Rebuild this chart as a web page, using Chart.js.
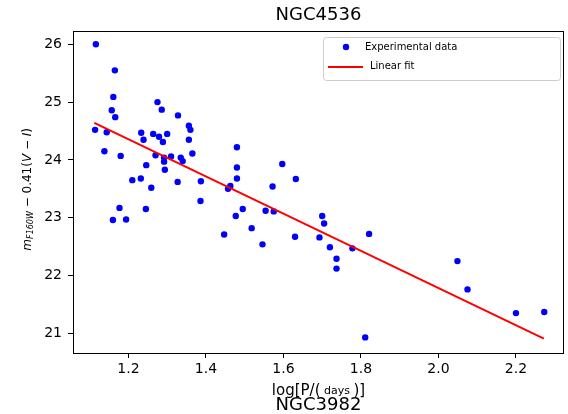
<!DOCTYPE html>
<html>
<head>
<meta charset="utf-8">
<script src="https://cdn.jsdelivr.net/npm/chart.js@4.4.1/dist/chart.umd.min.js"></script>
<style>
  html, body { margin: 0; padding: 0; background: #fff; }
  canvas { display: block; }
</style>
</head>
<body>
<canvas id="myChart" width="568" height="414"></canvas>
<script>
// data block
const logP = [
    1.116, 1.165, 1.161, 1.157, 1.166, 1.114, 1.144, 1.233, 1.239, 1.264,
    1.275, 1.286, 1.328, 1.356, 1.360, 1.279, 1.300, 1.289, 1.356, 1.365,
    1.270, 1.292, 1.292, 1.310, 1.335, 1.340, 1.138, 1.180, 1.246, 1.294,
    1.210, 1.232, 1.259, 1.327, 1.387, 1.386, 1.177, 1.245, 1.160, 1.194,
    1.480, 1.480, 1.597, 1.480, 1.632, 1.463, 1.457, 1.572, 1.495, 1.477,
    1.554, 1.575, 1.700, 1.705, 1.518, 1.447, 1.630, 1.693, 1.546, 1.720,
    1.778, 1.737, 1.737, 1.821, 2.049, 2.075, 2.200, 2.273, 1.811
];
const mag = [
    26.00, 25.55, 25.09, 24.86, 24.74, 24.52, 24.48, 24.47, 24.35, 24.45,
    25.00, 24.87, 24.77, 24.59, 24.52, 24.40, 24.45, 24.31, 24.35, 24.11,
    24.08, 24.04, 23.97, 24.06, 24.04, 23.98, 24.15, 24.07, 23.91, 23.83,
    23.65, 23.68, 23.52, 23.62, 23.63, 23.29, 23.17, 23.15, 22.96, 22.97,
    24.22, 23.87, 23.93, 23.68, 23.67, 23.55, 23.50, 23.54, 23.15, 23.03,
    23.12, 23.11, 23.03, 22.90, 22.82, 22.71, 22.67, 22.66, 22.54, 22.49,
    22.47, 22.29, 22.12, 22.72, 22.25, 21.76, 21.35, 21.37, 20.93
];
// linear fit end points
const fitX = [1.112, 2.272];
const fitY = [24.64, 20.91];
const xTicks = [1.2, 1.4, 1.6, 1.8, 2.0, 2.2];
const yTicks = [21, 22, 23, 24, 25, 26];

const FONT = "'DejaVu Sans', sans-serif";
Chart.defaults.color = '#000';
Chart.defaults.font.family = FONT;

const data = {
    datasets: [{
        type: 'scatter',
        label: 'Experimental data',
        data: logP.map((x, i) => ({ x: x, y: mag[i] })),
        backgroundColor: '#0000ff',
        borderWidth: 0,
        pointRadius: 3.2,
        order: 1
    }, {
        type: 'line',
        label: 'Linear fit',
        data: fitX.map((x, i) => ({ x: x, y: fitY[i] })),
        borderColor: '#ff0000',
        borderWidth: 2,
        pointRadius: 0,
        fill: false,
        order: 0
    }]
};

// frame, axis labels, bottom title and legend box
const extras = {
    id: 'extras',
    afterDraw(chart) {
        const ctx = chart.ctx;
        const a = chart.chartArea;
        ctx.save();
        ctx.strokeStyle = '#000';
        ctx.lineWidth = 1;
        const l = Math.floor(a.left) + 0.5, t = Math.floor(a.top) + 0.5;
        ctx.strokeRect(l, t, Math.floor(a.right) - 0.5 - l, Math.floor(a.bottom) + 0.5 - t);

        // y label
        const parts = [
            { t: 'm', f: 'italic 12px ' + FONT, dy: 0 },
            { t: 'F160W', f: 'italic 8px ' + FONT, dy: 3 },
            { t: ' \u2212 0.41(', f: '12px ' + FONT, dy: 0 },
            { t: 'V', f: 'italic 12px ' + FONT, dy: 0 },
            { t: ' \u2212 ', f: '12px ' + FONT, dy: 0 },
            { t: 'I', f: 'italic 12px ' + FONT, dy: 0 },
            { t: ')', f: '12px ' + FONT, dy: 0 }
        ];
        ctx.translate(28, (a.top + a.bottom) / 2 - 3);
        ctx.rotate(-Math.PI / 2);
        let total = 0;
        parts.forEach(p => { ctx.font = p.f; p.w = ctx.measureText(p.t).width; total += p.w; });
        let x = -total / 2;
        ctx.fillStyle = '#000';
        ctx.textBaseline = 'middle';
        ctx.textAlign = 'left';
        parts.forEach(p => { ctx.font = p.f; ctx.fillText(p.t, x, p.dy); x += p.w; });
        ctx.setTransform(1, 0, 0, 1, 0, 0);

        // x label
        const xparts = [
            { t: 'log[P/(', f: '15px ' + FONT },
            { t: ' days ', f: '11px ' + FONT },
            { t: ')]', f: '15px ' + FONT }
        ];
        total = 0;
        xparts.forEach(p => { ctx.font = p.f; p.w = ctx.measureText(p.t).width; total += p.w; });
        x = (a.left + a.right) / 2 - total / 2;
        xparts.forEach(p => { ctx.font = p.f; ctx.fillText(p.t, x, 391); x += p.w; });

        ctx.font = '18px ' + FONT;
        ctx.textAlign = 'center';
        ctx.fillText('NGC3982', (a.left + a.right) / 2, 405);

        // legend
        ctx.beginPath();
        ctx.roundRect(323.5, 37.5, 237, 43, 3);
        ctx.fillStyle = 'rgba(255,255,255,0.8)';
        ctx.fill();
        ctx.strokeStyle = '#cccccc';
        ctx.stroke();
        const ds = chart.data.datasets;
        ctx.font = '10px ' + FONT;
        ctx.textAlign = 'left';
        ctx.textBaseline = 'middle';
        ctx.fillStyle = ds[0].backgroundColor;
        ctx.beginPath();
        ctx.arc(346, 47, 3.2, 0, Math.PI * 2);
        ctx.fill();
        ctx.fillStyle = '#000';
        ctx.fillText(ds[0].label, 365, 47);
        ctx.strokeStyle = ds[1].borderColor;
        ctx.lineWidth = 2;
        ctx.beginPath();
        ctx.moveTo(328, 67);
        ctx.lineTo(363, 67);
        ctx.stroke();
        ctx.fillText(ds[1].label, 370, 66);
        ctx.restore();
    }
};

// config block
const config = {
    type: 'scatter',
    data: data,
    options: {
        responsive: false,
        animation: false,
        layout: { padding: { left: 0, right: 0, top: 0, bottom: 0 } },
        scales: {
            x: {
                type: 'linear',
                min: 1.057,
                max: 2.324,
                afterBuildTicks: (scale) => { scale.ticks = xTicks.map(v => ({ value: v })); },
                afterFit: (scale) => { scale.height = 61; },
                grid: { drawOnChartArea: false, tickLength: 5, tickColor: '#000' },
                border: { display: false },
                ticks: {
                    font: { size: 14 },
                    padding: 3,
                    maxRotation: 0,
                    callback: (v) => v.toFixed(1)
                }
            },
            y: {
                type: 'linear',
                min: 20.66,
                max: 26.22,
                afterBuildTicks: (scale) => { scale.ticks = yTicks.map(v => ({ value: v })); },
                afterFit: (scale) => { scale.width = 73; },
                grid: { drawOnChartArea: false, tickLength: 5, tickColor: '#000' },
                border: { display: false },
                ticks: {
                    font: { size: 14 },
                    padding: 6,
                    callback: (v) => String(v)
                }
            }
        },
        plugins: {
            legend: { display: false },
            tooltip: { enabled: false },
            title: {
                display: true,
                fullSize: false,
                text: 'NGC4536',
                font: { size: 18, weight: 'normal' },
                padding: { top: 5, bottom: 5 }
            }
        }
    },
    plugins: [extras]
};

// init render block
const myChart = new Chart(
    document.getElementById('myChart'),
    config
);
</script>
</body>
</html>
